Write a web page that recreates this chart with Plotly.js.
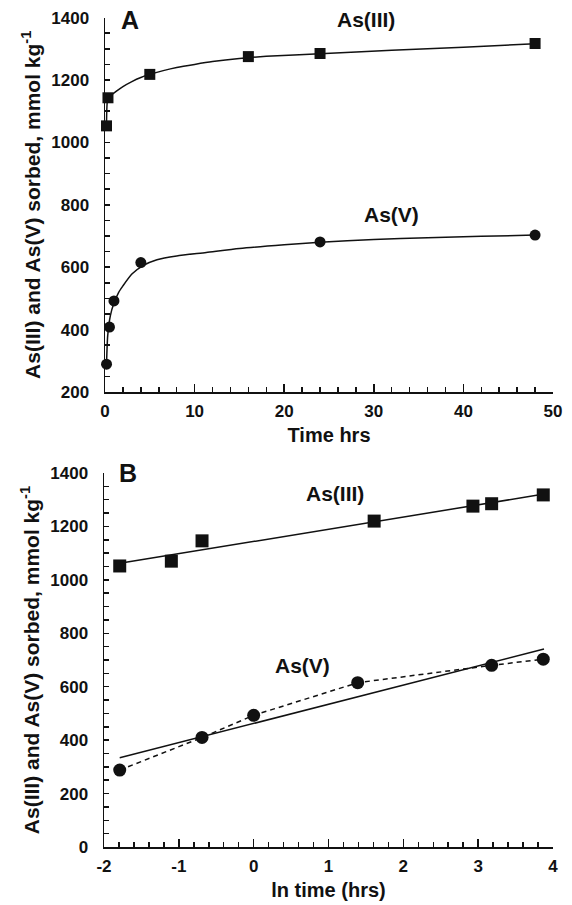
<!DOCTYPE html>
<html>
<head>
<meta charset="utf-8">
<script src="https://cdn.plot.ly/plotly-3.0.1.min.js"></script>
<style>html,body{margin:0;padding:0;background:#fff;}#chart{width:572px;height:905px;}</style>
</head>
<body>
<div id="chart"></div>
<script>
// ---- Panel A: sorption vs time (hrs) ----
var timeAs3 = [0.17, 0.33, 5, 16, 24, 48];
var sorbAs3 = [1053, 1143, 1218, 1275, 1285, 1317];
var timeAs5 = [0.17, 0.5, 1, 4, 24, 48];
var sorbAs5 = [289, 408, 492, 615, 681, 703];

// fitted curves
var fitTimeAs3 = [0.17, 0.33, 0.7, 1.2, 2, 3, 4, 5, 6.5, 8, 10, 12, 15, 18, 24, 32, 40, 48];
var fitSorbAs3 = [1053, 1143, 1152, 1163, 1179, 1195, 1208, 1218, 1230, 1240, 1250, 1259, 1269, 1276, 1284, 1295, 1305, 1316];
var fitTimeAs5 = [0.17, 0.3, 0.6, 1, 1.5, 2, 3, 4.3, 5.8, 8, 11.3, 15, 20, 24, 30, 36, 42, 48];
var fitSorbAs5 = [289, 380, 445, 485, 518, 540, 578, 606, 624, 636, 647, 660, 672, 680, 689, 694, 699, 703];

// ---- Panel B: sorption vs ln time ----
var lnTimeAs3 = [-1.79, -1.1, -0.69, 1.61, 2.93, 3.18, 3.87];
var lnSorbAs3 = [1052, 1070, 1146, 1220, 1276, 1285, 1318];
var lnTimeAs5 = [-1.79, -0.69, 0, 1.39, 3.18, 3.87];
var lnSorbAs5 = [288, 410, 493, 615, 680, 703];

// linear regression lines (end points)
var regXAs3 = [-1.79, 3.9];
var regYAs3 = [1062, 1322];
var regXAs5 = [-1.79, 3.88];
var regYAs5 = [334, 741];

// tick labels
var ticksA = [0, 10, 20, 30, 40, 50];
var ticksB = [-2, -1, 0, 1, 2, 3, 4];
var ticksBText = ['-2', '-1', '0', '1', '2', '3', '4'];

var yTitle = 'As(III) and As(V) sorbed, mmol kg<sup>-1</sup>';
var FONT = 'Liberation Sans, Arial, sans-serif';

var traces = [
  {x: fitTimeAs3, y: fitSorbAs3, mode: 'lines', line: {color: '#111', width: 1.5, shape: 'spline', smoothing: 0.6}, xaxis: 'x', yaxis: 'y'},
  {x: fitTimeAs5, y: fitSorbAs5, mode: 'lines', line: {color: '#111', width: 1.5, shape: 'spline', smoothing: 0.6}, xaxis: 'x', yaxis: 'y'},
  {x: timeAs3, y: sorbAs3, mode: 'markers', marker: {symbol: 'square', size: 11, color: '#111'}, xaxis: 'x', yaxis: 'y', cliponaxis: false},
  {x: timeAs5, y: sorbAs5, mode: 'markers', marker: {symbol: 'circle', size: 11, color: '#111'}, xaxis: 'x', yaxis: 'y', cliponaxis: false},

  {x: regXAs3, y: regYAs3, mode: 'lines', line: {color: '#111', width: 1.5}, xaxis: 'x2', yaxis: 'y2'},
  {x: regXAs5, y: regYAs5, mode: 'lines', line: {color: '#111', width: 1.5}, xaxis: 'x2', yaxis: 'y2'},
  {x: lnTimeAs5, y: lnSorbAs5, mode: 'lines', line: {color: '#111', width: 1.5, dash: '5px,4px'}, xaxis: 'x2', yaxis: 'y2'},
  {x: lnTimeAs3, y: lnSorbAs3, mode: 'markers', marker: {symbol: 'square', size: 13, color: '#111'}, xaxis: 'x2', yaxis: 'y2', cliponaxis: false},
  {x: lnTimeAs5, y: lnSorbAs5, mode: 'markers', marker: {symbol: 'circle', size: 13, color: '#111'}, xaxis: 'x2', yaxis: 'y2', cliponaxis: false}
];

var tickFont = {family: FONT, size: 17, color: '#111', weight: 'bold'};
var titleFont = {family: FONT, size: 20, color: '#111', weight: 'bold'};
var yTitleFont = {family: FONT, size: 21, color: '#111', weight: 'bold'};
var annFont = {family: FONT, size: 21, color: '#111', weight: 'bold'};
var panelFont = {family: FONT, size: 25, color: '#111', weight: 'bold'};

function xAxis(domain, range, vals, text, minorDtick, anchor, title) {
  return {
    domain: domain, range: range, anchor: anchor,
    tickmode: 'array', tickvals: vals, ticktext: text,
    showline: true, linecolor: '#111', linewidth: 1.5, mirror: false,
    showgrid: false, zeroline: false,
    ticks: 'inside', ticklen: 8, tickwidth: 1.5, tickcolor: '#111',
    minor: {ticks: 'inside', ticklen: 5, tickwidth: 1.5, tickcolor: '#111', dtick: minorDtick, tick0: 0, showgrid: false},
    tickfont: tickFont, ticklabelstandoff: 3,
    title: {text: title, font: titleFont, standoff: 8},
    automargin: false, fixedrange: true
  };
}
function yAxis(domain, range, anchor) {
  return {
    domain: domain, range: range, anchor: anchor, dtick: 200, tick0: 0,
    showline: true, linecolor: '#111', linewidth: 1.5, mirror: false,
    showgrid: false, zeroline: false,
    ticks: 'inside', ticklen: 5, tickwidth: 1.5, tickcolor: '#111',
    minor: {ticks: 'inside', ticklen: 5, tickwidth: 1.5, tickcolor: '#111', dtick: 50, showgrid: false},
    tickfont: tickFont, ticklabelstandoff: 11,
    title: {text: yTitle, font: yTitleFont, standoff: 5},
    automargin: false, fixedrange: true
  };
}

var layout = {
  width: 572, height: 905,
  margin: {l: 0, r: 0, t: 0, b: 0},
  paper_bgcolor: '#fff', plot_bgcolor: '#fff',
  showlegend: false,
  xaxis: xAxis([105/572, 553/572], [0, 50], ticksA, ticksA.map(String), 2, 'y', 'Time hrs'),
  yaxis: yAxis([1 - 392/905, 1 - 17.6/905], [200, 1400], 'x'),
  xaxis2: xAxis([104/572, 553/572], [-2, 4], ticksB, ticksBText, 0.2, 'y2', 'ln time (hrs)'),
  yaxis2: yAxis([1 - 847/905, 1 - 473/905], [0, 1400], 'x2'),
  annotations: [
    {text: 'A', xref: 'paper', yref: 'paper', x: 130/572, y: 1 - 20/905, showarrow: false, xanchor: 'center', yanchor: 'middle', font: panelFont},
    {text: 'B', xref: 'paper', yref: 'paper', x: 128/572, y: 1 - 473/905, showarrow: false, xanchor: 'center', yanchor: 'middle', font: panelFont},
    {text: 'As(III)', xref: 'paper', yref: 'paper', x: 366/572, y: 1 - 19/905, showarrow: false, xanchor: 'center', yanchor: 'middle', font: annFont},
    {text: 'As(V)', xref: 'paper', yref: 'paper', x: 391/572, y: 1 - 215/905, showarrow: false, xanchor: 'center', yanchor: 'middle', font: annFont},
    {text: 'As(III)', xref: 'paper', yref: 'paper', x: 335/572, y: 1 - 493/905, showarrow: false, xanchor: 'center', yanchor: 'middle', font: annFont},
    {text: 'As(V)', xref: 'paper', yref: 'paper', x: 302/572, y: 1 - 665/905, showarrow: false, xanchor: 'center', yanchor: 'middle', font: annFont}
  ]
};

Plotly.newPlot('chart', traces, layout, {displayModeBar: false, staticPlot: true});
</script>
</body>
</html>
